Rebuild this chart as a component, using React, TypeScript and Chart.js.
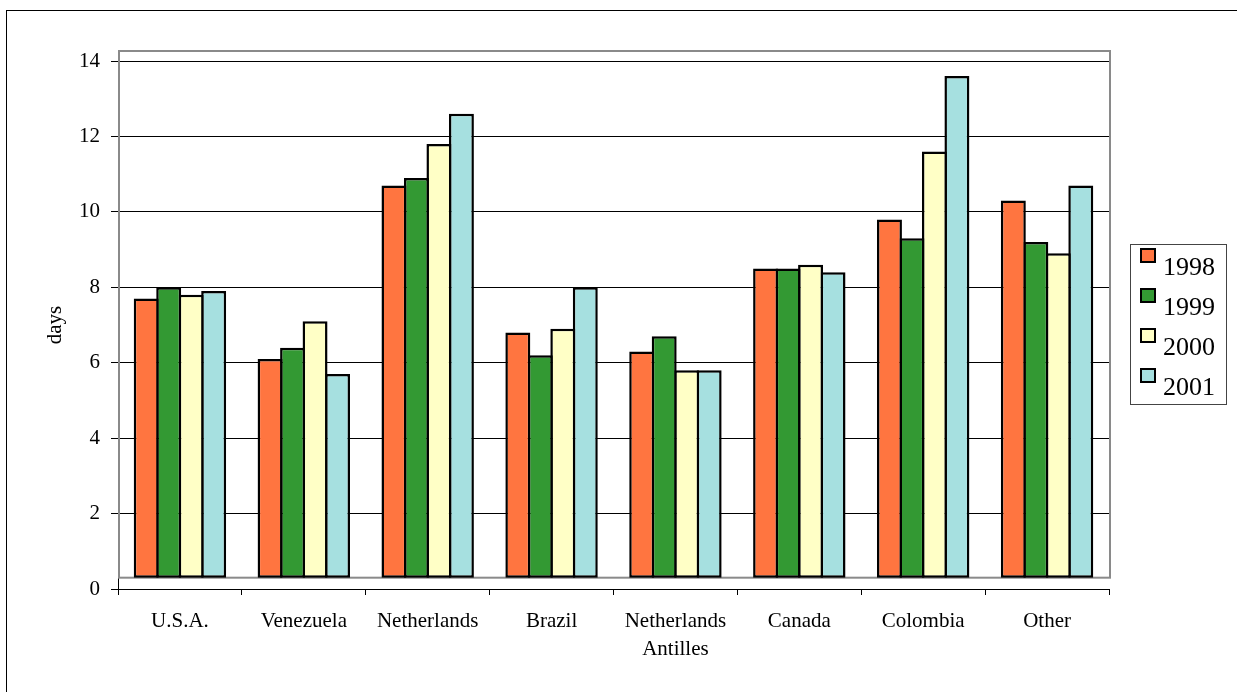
import React, { useEffect, useRef } from 'react';
import { Chart, registerables } from 'chart.js';

Chart.register(...registerables);

const categories: (string | string[])[] = [
  'U.S.A.',
  'Venezuela',
  'Netherlands',
  'Brazil',
  ['Netherlands', 'Antilles'],
  'Canada',
  'Colombia',
  'Other',
];
const seriesLabels = ['1998', '1999', '2000', '2001'];
const values1998 = [7.7, 6.1, 10.7, 6.8, 6.3, 8.5, 9.8, 10.3];
const values1999 = [8.0, 6.4, 10.9, 6.2, 6.7, 8.5, 9.3, 9.2];
const values2000 = [7.8, 7.1, 11.8, 6.9, 5.8, 8.6, 11.6, 8.9];
const values2001 = [7.9, 5.7, 12.6, 8.0, 5.8, 8.4, 13.6, 10.7];
const seriesColors = ['#FF7540', '#339933', '#FFFFC6', '#A6E0E0'];
const yMin = 0;
const yMax = 14;
const yStep = 2;
const yTitle = 'days';

const FONT = "'Liberation Serif', 'Times New Roman', serif";

const outerBorderPlugin = {
  id: 'outerBorder',
  afterDraw(chart: any) {
    const ctx = chart.ctx;
    ctx.save();
    ctx.strokeStyle = '#000';
    ctx.lineWidth = 1;
    ctx.strokeRect(6.5, 10.5, chart.width + 100, chart.height + 100);
    ctx.restore();
  },
};

const plotFramePlugin = {
  id: 'plotFrame',
  beforeDatasetsDraw(chart: any) {
    const { ctx, chartArea, scales } = chart;
    const y = scales.y;
    const top = y.getPixelForValue(yMax) - 10;
    const bottom = y.getPixelForValue(0.3);
    ctx.save();
    ctx.strokeStyle = '#8a8a8a';
    ctx.lineWidth = 2;
    ctx.strokeRect(chartArea.left + 1, top, chartArea.right - chartArea.left, bottom - top);
    ctx.restore();
  },
};

const customLegendPlugin = {
  id: 'customLegend',
  afterDraw(chart: any) {
    const { ctx, chartArea } = chart;
    const boxLeft = chartArea.right + 21;
    const boxTop = 244;
    const boxW = 96;
    const boxH = 160;
    ctx.save();
    ctx.fillStyle = '#fff';
    ctx.fillRect(boxLeft, boxTop, boxW, boxH);
    ctx.strokeStyle = '#444';
    ctx.lineWidth = 1;
    ctx.strokeRect(boxLeft + 0.5, boxTop + 0.5, boxW, boxH);
    chart.data.datasets.forEach((ds: any, i: number) => {
      const sy = boxTop + 4 + i * 40;
      const sx = boxLeft + 10;
      ctx.fillStyle = ds.backgroundColor;
      ctx.fillRect(sx, sy, 16, 15);
      ctx.strokeStyle = '#000';
      ctx.lineWidth = 2;
      ctx.strokeRect(sx + 1, sy + 1, 14, 13);
      ctx.fillStyle = '#000';
      ctx.font = `26px ${FONT}`;
      ctx.textAlign = 'left';
      ctx.textBaseline = 'alphabetic';
      ctx.fillText(ds.label, boxLeft + 33, sy + 27);
    });
    ctx.restore();
  },
};

export default function App() {
  const canvasRef = useRef<HTMLCanvasElement | null>(null);

  useEffect(() => {
    if (!canvasRef.current) return;
    const seriesValues = [values1998, values1999, values2000, values2001];
    const chart = new Chart(canvasRef.current, {
      type: 'bar',
      data: {
        labels: categories as any,
        datasets: seriesLabels.map((label, i) => ({
          label,
          data: seriesValues[i],
          backgroundColor: seriesColors[i],
          borderColor: '#000',
          borderWidth: 2.5,
          borderSkipped: false,
          base: 0.3,
          categoryPercentage: 0.726,
          barPercentage: 1.11,
        })),
      },
      options: {
        responsive: false,
        animation: false,
        events: [],
        layout: { padding: { left: 0, top: 61, right: 128, bottom: 0 } },
        plugins: {
          legend: { display: false },
          tooltip: { enabled: false },
          title: { display: false },
        },
        scales: {
          x: {
            offset: true,
            grid: {
              offset: true,
              drawOnChartArea: false,
              drawTicks: true,
              tickLength: 6,
              color: '#000',
              lineWidth: 1,
            },
            border: { display: true, color: '#000', width: 1 },
            ticks: {
              color: '#000',
              font: { family: FONT, size: 21, lineHeight: 1.33 },
              padding: 13,
              maxRotation: 0,
              autoSkip: false,
            },
            afterFit(scale: any) {
              scale.height = 103;
            },
          },
          y: {
            min: yMin,
            max: yMax,
            grid: {
              color: '#000',
              lineWidth: 1,
              tickLength: 7,
              drawTicks: true,
            },
            border: { display: true, color: '#000', width: 1 },
            ticks: {
              stepSize: yStep,
              color: '#000',
              font: { family: FONT, size: 21 },
              padding: 11,
            },
            title: {
              display: true,
              text: yTitle,
              color: '#000',
              font: { family: FONT, size: 21, lineHeight: 1.2 },
              padding: { top: 43, bottom: 0 },
            },
            afterFit(scale: any) {
              scale.width = 118;
            },
          },
        },
      },
      plugins: [plotFramePlugin, customLegendPlugin, outerBorderPlugin],
    } as any);
    return () => chart.destroy();
  }, []);

  return (
    <div style={{ position: 'absolute', left: 0, top: 0, width: 1237, height: 692, background: '#fff' }}>
      <canvas ref={canvasRef} width={1237} height={692} style={{ display: 'block' }} />
    </div>
  );
}
